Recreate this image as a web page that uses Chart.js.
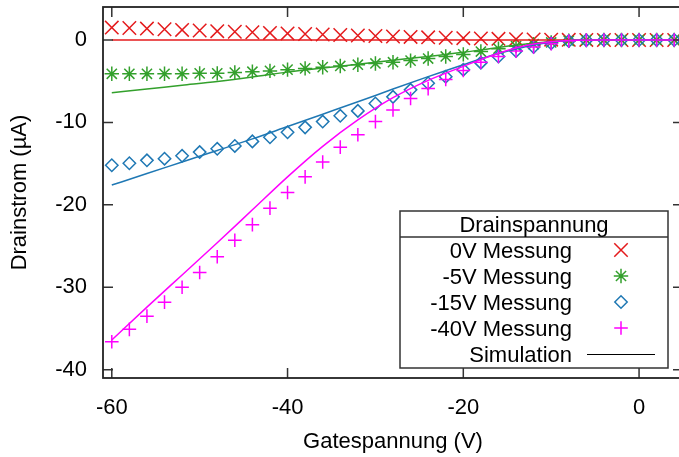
<!DOCTYPE html>
<html>
<head>
<meta charset="utf-8">
<script src="https://cdn.jsdelivr.net/npm/chart.js@4"></script>
<style>
html,body{margin:0;padding:0;background:#fff;overflow:hidden;width:679px;height:457px}
#wrap{width:679px;height:457px;overflow:hidden;position:relative}
canvas{display:block}
</style>
</head>
<body>
<div id="wrap"><canvas id="c" width="690" height="457"></canvas></div>
<script>
// ---- data ----
const gateVoltage = [-60,-58,-56,-54,-52,-50,-48,-46,-44,-42,-40,-38,-36,-34,-32,-30,-28,-26,-24,-22,-20,-18,-16,-14,-12,-10,-8,-6,-4,-2,0,2,4];
const messung0V  = [1.5,1.45,1.38,1.3,1.22,1.15,1.07,1.0,0.93,0.86,0.8,0.72,0.66,0.6,0.54,0.48,0.42,0.37,0.32,0.27,0.22,0.18,0.14,0.1,0.07,0.04,0.02,0.01,0,0,0,0,0];
const messung5V  = [-4.1,-4.1,-4.1,-4.1,-4.1,-4.05,-4.05,-3.95,-3.85,-3.75,-3.6,-3.45,-3.3,-3.15,-3.0,-2.85,-2.7,-2.5,-2.25,-2.0,-1.75,-1.4,-1.05,-0.75,-0.5,-0.3,-0.1,-0.02,0,0,0,0,0];
const messung15V = [-15.2,-14.95,-14.6,-14.4,-14.05,-13.6,-13.2,-12.85,-12.3,-11.8,-11.2,-10.6,-9.9,-9.2,-8.6,-7.7,-6.9,-6.05,-5.25,-4.45,-3.6,-2.75,-2.0,-1.35,-0.85,-0.4,-0.12,-0.02,0,0,0,0,0];
const messung40V = [-36.6,-35.1,-33.5,-31.8,-30.0,-28.2,-26.3,-24.3,-22.4,-20.4,-18.5,-16.6,-14.8,-13.0,-11.5,-9.9,-8.5,-7.1,-5.9,-4.8,-3.7,-2.7,-2.0,-1.35,-0.85,-0.45,-0.12,-0.02,0,0,0,0,0];

const simGate = [-60,-56,-52,-48,-44,-40,-36,-32,-28,-24,-20,-16,-12,-8,-4,0,4];
const sim0V  = [0,0,0,0,0,0,0,0,0,0,0,0,0,0,0,0,0];
const sim5V  = [-6.4,-5.95,-5.5,-5.05,-4.5,-3.9,-3.4,-2.95,-2.45,-2.0,-1.5,-0.9,-0.4,-0.05,0,0,0];
const sim15V = [-17.6,-16.2,-14.8,-13.4,-12.0,-10.5,-9.0,-7.5,-5.95,-4.45,-3.0,-1.65,-0.6,-0.05,0,0,0];
const sim40V = [-36.4,-32.4,-28.5,-24.6,-20.6,-16.6,-12.9,-9.7,-7.0,-4.9,-3.2,-1.6,-0.5,-0.05,0,0,0];

const seriesLabels = ['0V Messung','-5V Messung','-15V Messung','-40V Messung'];
const legendTitle = 'Drainspannung';
const simLabel = 'Simulation';
const xTickValues = [-60,-40,-20,0];
const yTickValues = [0,-10,-20,-30,-40];
const xTitle = 'Gatespannung (V)';
const yTitle = 'Drainstrom (\u00b5A)';

// ---- styles ----
const COLORS = ['#e41a1c','#33a02c','#1f78b4','#ff00ff'];
const FONT = '"Liberation Sans", Arial, sans-serif';

const pts = (xs, ys) => xs.map((v, i) => ({x: v, y: ys[i]}));

const markerSets = [
  {label: seriesLabels[0], data: pts(gateVoltage, messung0V),  pointStyle: 'crossRot', pointRadius: 9.5, order: 7},
  {label: seriesLabels[1], data: pts(gateVoltage, messung5V),  pointStyle: 'star',     pointRadius: 7.2, order: 6},
  {label: seriesLabels[2], data: pts(gateVoltage, messung15V), pointStyle: 'rectRot',  pointRadius: 6.2, order: 5},
  {label: seriesLabels[3], data: pts(gateVoltage, messung40V), pointStyle: 'cross',    pointRadius: 6.8, order: 4}
].map((d, i) => Object.assign(d, {
  showLine: false,
  borderColor: COLORS[i],
  backgroundColor: 'rgba(0,0,0,0)',
  pointBorderColor: COLORS[i],
  pointBackgroundColor: 'rgba(0,0,0,0)',
  pointBorderWidth: 1.5,
  pointHoverRadius: d.pointRadius
}));

const simSets = [sim0V, sim5V, sim15V, sim40V].map((ys, i) => ({
  label: simLabel,
  data: pts(simGate, ys),
  showLine: true,
  pointRadius: 0,
  borderColor: COLORS[i],
  backgroundColor: COLORS[i],
  borderWidth: 1.5,
  cubicInterpolationMode: 'monotone',
  order: 3 - i
}));

const framePlugin = {
  id: 'frame',
  afterDatasetsDraw(chart) {
    const {ctx, chartArea: a, scales: {x, y}} = chart;
    ctx.save();
    ctx.strokeStyle = '#333';
    ctx.lineWidth = 1.5;
    const L = 10;
    ctx.beginPath();
    x.ticks.forEach(t => {
      const px = x.getPixelForValue(t.value);
      ctx.moveTo(px, a.bottom); ctx.lineTo(px, a.bottom - L);
      ctx.moveTo(px, a.top); ctx.lineTo(px, a.top + L);
    });
    y.ticks.forEach(t => {
      const py = y.getPixelForValue(t.value);
      ctx.moveTo(a.left, py); ctx.lineTo(a.left + L, py);
      ctx.moveTo(a.right, py); ctx.lineTo(a.right - L, py);
    });
    ctx.stroke();
    ctx.lineWidth = 1.8;
    ctx.strokeStyle = '#222';
    ctx.strokeRect(a.left, a.top, a.right - a.left, a.bottom - a.top);
    ctx.restore();
  }
};

const keyPlugin = {
  id: 'keybox',
  afterDraw(chart) {
    const ctx = chart.ctx;
    const bx = 400, by = 211, bw = 268, bh = 157;
    ctx.save();
    ctx.fillStyle = '#fff';
    ctx.fillRect(bx, by, bw, bh);
    ctx.strokeStyle = '#333';
    ctx.lineWidth = 1.5;
    ctx.strokeRect(bx, by, bw, bh);
    ctx.beginPath();
    ctx.moveTo(bx, 237); ctx.lineTo(bx + bw, 237);
    ctx.stroke();
    ctx.font = '22px ' + FONT;
    ctx.fillStyle = '#000';
    ctx.textBaseline = 'alphabetic';
    ctx.textAlign = 'center';
    ctx.fillText(legendTitle, bx + bw / 2, 232);
    ctx.textAlign = 'right';
    const rowY = [258, 284, 310, 336];
    markerSets.forEach((d, i) => {
      ctx.fillStyle = '#000';
      ctx.fillText(d.label, 572, rowY[i]);
      ctx.strokeStyle = d.pointBorderColor;
      ctx.fillStyle = 'rgba(0,0,0,0)';
      ctx.lineWidth = 1.5;
      if (Chart.helpers && Chart.helpers.drawPoint) {
        Chart.helpers.drawPoint(ctx, {pointStyle: d.pointStyle, radius: d.pointRadius, rotation: 0, borderWidth: 1.5}, 621, rowY[i] - 8);
      }
    });
    ctx.fillStyle = '#000';
    ctx.fillText(simLabel, 572, 362);
    ctx.strokeStyle = '#000';
    ctx.lineWidth = 1.2;
    ctx.beginPath();
    ctx.moveTo(587, 354.5); ctx.lineTo(655, 354.5);
    ctx.stroke();
    ctx.restore();
  }
};

new Chart(document.getElementById('c'), {
  type: 'scatter',
  data: {datasets: [...simSets, ...markerSets]},
  options: {
    responsive: false,
    animation: false,
    devicePixelRatio: 1,
    layout: {autoPadding: false, padding: {left: 0, top: 7, right: 7, bottom: 0}},
    plugins: {legend: {display: false}, tooltip: {enabled: false}},
    scales: {
      x: {
        type: 'linear', min: -61, max: 5,
        afterBuildTicks: s => { s.ticks = xTickValues.map(v => ({value: v})); },
        afterFit: s => { s.height = 79; s.paddingLeft = 0; s.paddingRight = 0; },
        grid: {display: false, drawTicks: false},
        border: {display: false},
        ticks: {color: '#000', font: {family: FONT, size: 22}, padding: 17, maxRotation: 0, autoSkip: false, callback: v => String(v)},
        title: {display: true, text: xTitle, color: '#000', font: {family: FONT, size: 22}, padding: {top: 0, bottom: 2}}
      },
      y: {
        type: 'linear', min: -41, max: 4,
        afterBuildTicks: s => { s.ticks = yTickValues.map(v => ({value: v})); },
        afterFit: s => { s.width = 103; s.paddingTop = 0; s.paddingBottom = 0; },
        grid: {display: false, drawTicks: false},
        border: {display: false},
        ticks: {color: '#000', font: {family: FONT, size: 22}, padding: 16, autoSkip: false, callback: v => String(v)},
        title: {display: true, text: yTitle, color: '#000', font: {family: FONT, size: 22}, padding: {top: 7, bottom: 0}}
      }
    }
  },
  plugins: [framePlugin, keyPlugin]
});
</script>
</body>
</html>
